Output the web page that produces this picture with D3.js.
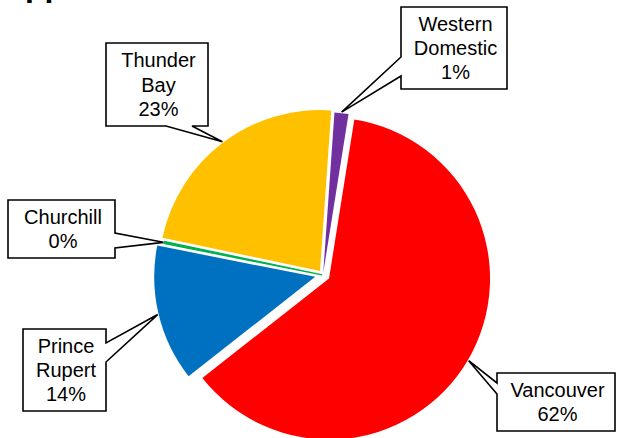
<!DOCTYPE html>
<html>
<head>
<meta charset="utf-8">
<script src="https://cdn.jsdelivr.net/npm/d3@7"></script>
<style>
    body { margin: 0; background: #ffffff; }
    svg { display: block; font-family: "Liberation Sans", Arial, sans-serif; }
</style>
</head>
<body>
<div id="chart"></div>
<script>
var ports = ["Western Domestic", "Vancouver", "Prince Rupert", "Churchill", "Thunder Bay"];
var shares = [1.4, 61.9, 13.7, 0.2, 22.8];
var labelLines = [["Western", "Domestic"], ["Vancouver"], ["Prince", "Rupert"], ["Churchill"], ["Thunder", "Bay"]];
var sliceColors = ["#7030A0", "#FF0000", "#0070C0", "#00B050", "#FFC000"];

var width = 617, height = 438;
var cx = 323, cy = 275, radius = 161;
// how far each slice is pulled out from the centre
var explode = [2, 7, 8, 1, 5];
// callout boxes: x, y, w, h and which side the pointer leaves from
var boxes = [
    {x: 401, y: 7, w: 106, h: 82, side: "left", a: 57, b: 76},
    {x: 497, y: 373, w: 118, h: 58, side: "left", a: 383, b: 394},
    {x: 23, y: 329, w: 83, h: 82, side: "right", a: 343, b: 362},
    {x: 8, y: 200, w: 107, h: 58, side: "right", a: 233, b: 248},
    {x: 106, y: 43, w: 102, h: 83, side: "bottom", a: 166, b: 192}
];

var svg = d3.select("#chart").append("svg")
    .attr("width", width)
    .attr("height", height);

// title sits mostly above the visible area
svg.append("text")
    .attr("x", 25)
    .attr("y", -4)
    .style("font-size", "32px")
    .style("font-weight", "bold")
    .text("pp");

var data = ports.map(function(p, i) {
    return {port: p, share: shares[i], lines: labelLines[i], color: sliceColors[i], explode: explode[i], box: boxes[i]};
});

var start = 4 * Math.PI / 180;
var pie = d3.pie()
    .value(function(d) { return d.share; })
    .sort(null)
    .startAngle(start)
    .endAngle(start + 2 * Math.PI);

var arc = d3.arc().innerRadius(0).outerRadius(radius);
var arcs = pie(data);

function offset(d, r) {
    var mid = (d.startAngle + d.endAngle) / 2;
    return [Math.sin(mid) * r, -Math.cos(mid) * r];
}

var pieGroup = svg.append("g")
    .attr("transform", "translate(" + cx + "," + cy + ")");

pieGroup.selectAll("path")
    .data(arcs)
    .enter()
    .append("path")
    .attr("transform", function(d) {
        var o = offset(d, d.data.explode);
        return "translate(" + o[0] + "," + o[1] + ")";
    })
    .attr("d", arc)
    .style("fill", function(d) { return d.data.color; })
    .style("stroke", function(d) { return d.data.share < 1 ? d.data.color : "none"; })
    .style("stroke-width", 1.3);

// callouts
var callouts = svg.append("g");
arcs.forEach(function(d) {
    var b = d.data.box;
    var o = offset(d, radius + d.data.explode + 1);
    var tip = [cx + o[0], cy + o[1]];
    var pts = [[b.x, b.y], [b.x + b.w, b.y]];
    if (b.side === "right") {
        pts.push([b.x + b.w, b.a], tip, [b.x + b.w, b.b]);
    }
    pts.push([b.x + b.w, b.y + b.h]);
    if (b.side === "bottom") {
        pts.push([b.b, b.y + b.h], tip, [b.a, b.y + b.h]);
    }
    pts.push([b.x, b.y + b.h]);
    if (b.side === "left") {
        pts.push([b.x, b.b], tip, [b.x, b.a]);
    }
    callouts.append("path")
        .attr("d", d3.line()(pts) + "Z")
        .style("fill", "#ffffff")
        .style("stroke", "#000000")
        .style("stroke-width", 1.6)
        .style("stroke-linejoin", "miter");

    var lines = d.data.lines.concat([Math.round(d.data.share) + "%"]);
    var lineH = 24.2;
    var firstBase = b.y + b.h / 2 - (lines.length - 1) * lineH / 2 + 7;
    callouts.append("text")
        .attr("text-anchor", "middle")
        .style("font-size", "20px")
        .style("fill", "#000000")
        .selectAll("tspan")
        .data(lines)
        .enter()
        .append("tspan")
        .attr("x", b.x + b.w / 2 + 1.5)
        .attr("y", function(l, i) { return firstBase + i * lineH; })
        .text(function(l) { return l; });
});
</script>
</body>
</html>
